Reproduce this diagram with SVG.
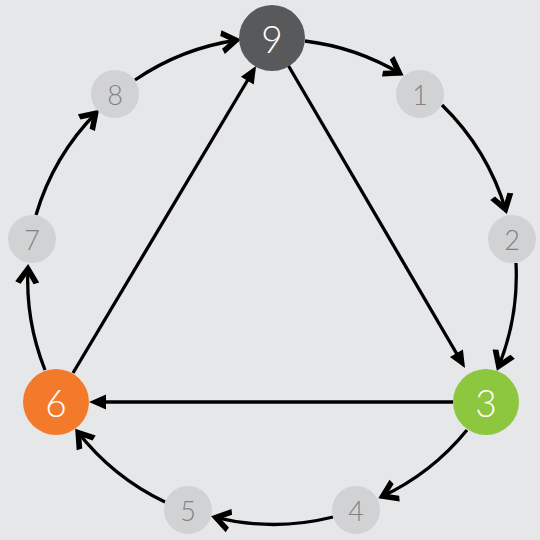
<svg xmlns="http://www.w3.org/2000/svg" width="540" height="540" viewBox="0 0 540 540">
<defs>
<style>
.bg{fill:#e6e7e9}
.arc{fill:none;stroke:#000;stroke-width:3.3;marker-end:url(#chev)}
.ln{fill:none;stroke:#000;stroke-width:3.3;marker-end:url(#tri)}
.small circle{fill:#d1d2d4}
.small text{fill:#808183;font-size:27px}
.big text{fill:#fff;font-size:37px}
text{font-family:Lato,"Open Sans","DejaVu Sans",sans-serif;font-weight:300;text-anchor:middle;dominant-baseline:central}
</style>
<marker id="chev" markerUnits="userSpaceOnUse" markerWidth="40" markerHeight="40" viewBox="-20 -20 40 40" refX="0" refY="0" orient="auto" overflow="visible">
<path d="M3,0 L-15,-12 L-17,-6.5 L-7,0 L-17,6.5 L-15,12 Z" fill="#000"/>
</marker>
<marker id="tri" markerUnits="userSpaceOnUse" markerWidth="40" markerHeight="40" viewBox="-20 -20 40 40" refX="0" refY="0" orient="auto" overflow="visible">
<path d="M4,0 L-13,-7.5 L-13,7.5 Z" fill="#000"/>
</marker>
</defs>
<rect class="bg" x="0" y="0" width="540" height="540"/>
<g id="connectors">
<path class="arc" d="M305,41 A244,244 0 0 1 401,74"/>
<path class="arc" d="M442,105 A244,244 0 0 1 506,211"/>
<path class="arc" d="M516,263 A244,244 0 0 1 498,368"/>
<path class="arc" d="M467,430 A244,244 0 0 1 381,497"/>
<path class="arc" d="M333,517 A244,244 0 0 1 214,517"/>
<path class="arc" d="M165,502 A244,244 0 0 1 77,431"/>
<path class="arc" d="M45,370 A244,244 0 0 1 28,267"/>
<path class="arc" d="M36,215 A244,244 0 0 1 97,112"/>
<path class="arc" d="M135,80 A244,244 0 0 1 238,40"/>
<path class="ln" d="M288,65 L463,364.5"/>
<path class="ln" d="M453,402 L93,402"/>
<path class="ln" d="M73,373 L254,69.5"/>
</g>
<g id="n9" class="big"><circle cx="272" cy="38" r="33" fill="#58595b"/><text x="272" y="38">9</text></g>
<g id="n1" class="small"><circle cx="420" cy="94" r="24"/><text x="420" y="94">1</text></g>
<g id="n2" class="small"><circle cx="512" cy="239" r="24"/><text x="512" y="239">2</text></g>
<g id="n3" class="big"><circle cx="486" cy="402" r="33" fill="#8dc63f"/><text x="486" y="402">3</text></g>
<g id="n4" class="small"><circle cx="356" cy="510" r="24"/><text x="356" y="510">4</text></g>
<g id="n5" class="small"><circle cx="188" cy="510" r="24"/><text x="188" y="510">5</text></g>
<g id="n6" class="big"><circle cx="56" cy="402" r="33" fill="#f47a2b"/><text x="56" y="402">6</text></g>
<g id="n7" class="small"><circle cx="32" cy="239" r="24"/><text x="32" y="239">7</text></g>
<g id="n8" class="small"><circle cx="115" cy="94" r="24"/><text x="115" y="94">8</text></g>
</svg>
